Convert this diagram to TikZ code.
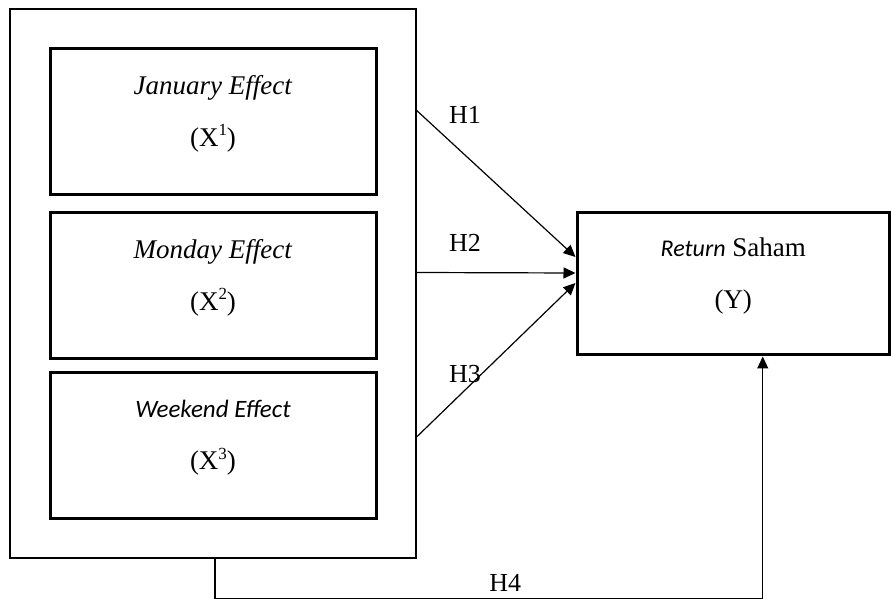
\documentclass[tikz,border=0pt]{standalone}
\usepackage{fontspec}
\setmainfont{Liberation Serif}[ItalicFont={Liberation Serif Italic}]
\newfontfamily\calfont{Carlito}
\usepackage{tikz}
\usetikzlibrary{arrows.meta,positioning}

\newcommand{\supx}[1]{\raisebox{0.85ex}{\fontsize{8.5}{8.5}\selectfont #1}}

\begin{document}
\begin{tikzpicture}[
              x=0.5pt, y=-0.5pt,
              every node/.style={font=\fontsize{13.5}{16}\selectfont},
              varbox/.style={draw, line width=1.5pt, minimum width=163pt,
                             minimum height=73pt, align=center, text depth=11pt},
              groupbox/.style={draw, line width=0.6pt, minimum width=203pt,
                               minimum height=274.5pt},
              link/.style={draw, line width=0.6pt, -{Triangle[length=6pt,width=5.5pt]}},
              hlabel/.style={anchor=west, font=\fontsize{13}{15}\selectfont}
            ]
            \useasboundingbox (0,0) rectangle (891,599);

            % Independent variables, grouped in one frame
            \node[groupbox] (grp) at (213,283.5) {};
            \node[varbox] (jan) at (213,122)
              {\textit{January Effect}\\[10pt](X\supx{1})};
            \node[varbox] (mon) at (213,286)
              {\textit{Monday Effect}\\[10pt](X\supx{2})};
            \node[varbox] (wkd) at (213,446)
              {{\calfont\itshape\fontsize{12.5}{16}\selectfont Weekend Effect}\\[10pt](X\supx{3})};

            % Dependent variable
            \node[varbox, minimum width=156.25pt, minimum height=71pt] (ret) at (733.25,284)
              {{\calfont\itshape\fontsize{12}{16}\selectfont Return} Saham\\[10pt](Y)};

            % Hypotheses H1 - H3
            \draw[link] ([yshift=-51pt]grp.north east) -- ([yshift=13.5pt]ret.west);
            \draw[link] ([yshift=5.5pt]grp.east) -- ([yshift=5.5pt]ret.west);
            \draw[link] ([yshift=-76.75pt]grp.east) -- ([yshift=0.5pt]ret.west);
            \node[hlabel] (h1) at (442,115) {H1};
            \node[hlabel] (h2) at (442,243) {H2};
            \node[hlabel] (h3) at (442,374) {H3};

            % Joint hypothesis H4
            \draw[link] ([xshift=1pt]grp.south) -- ++(0,-20pt)
              -| node[pos=0.265, above, hlabel, anchor=south] {H4} ([xshift=14.75pt]ret.south);

\end{tikzpicture}
\end{document}
